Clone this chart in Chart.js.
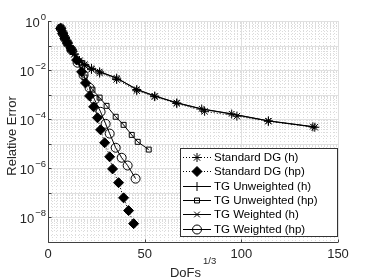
<!DOCTYPE html>
<html>
<head>
<meta charset="utf-8">
<script src="https://cdn.jsdelivr.net/npm/chart.js@4/dist/chart.umd.min.js"></script>
<style>
  html, body { margin: 0; padding: 0; background: #fff; }
  #wrap { width: 374px; height: 280px; }
</style>
</head>
<body>
<div id="wrap"><canvas id="myChart" width="374" height="280"></canvas></div>
<script>
// series data (x = DoFs^(1/3), y = relative error)
var seriesNames = ['Standard DG (h)', 'Standard DG (hp)', 'TG Unweighted (h)', 'TG Unweighted (hp)', 'TG Weighted (h)', 'TG Weighted (hp)'];

var dgH_x = [6.6, 7.6, 8.7, 10, 11.6, 13.6, 16.3, 19, 22.5, 26.7, 35.5, 45.9, 55.2, 66.6, 81, 97.7, 114, 138];
var dgH_y = [0.50, 0.316, 0.204, 0.126, 0.0759, 0.0437, 0.0219, 0.0151, 0.0107, 0.00759, 0.00417, 0.00145, 8.3e-4, 4.4e-4, 2.1e-4, 1.33e-4, 8.3e-5, 4.7e-5];

var dgHp_x = [6.6, 7.6, 8.7, 10.1, 12.2, 14.8, 17.4, 19.4, 21.5, 23.6, 25.6, 27.2, 29.3, 31.9, 33.4, 36.5, 39.1, 41.7, 44.3];
var dgHp_y = [0.50, 0.316, 0.20, 0.126, 0.066, 0.0257, 0.0085, 0.0030, 8.9e-4, 3.2e-4, 1.15e-4, 3.7e-5, 1.1e-5, 2.95e-6, 9.5e-7, 2.6e-7, 6.3e-8, 1.9e-8, 5.6e-9];

var tgH_x = [6.6, 7.6, 8.7, 10, 11.6, 13.6, 16.3, 19, 22.5, 26.7, 35.5, 45.9, 55.2, 66.6, 79.5, 95, 114, 137];
var tgUwH_y = [0.50, 0.316, 0.204, 0.126, 0.079, 0.046, 0.0245, 0.017, 0.0118, 0.0085, 0.0047, 0.00162, 8.8e-4, 4.6e-4, 2.6e-4, 1.62e-4, 8.5e-5, 4.9e-5];
var tgWH_y = [0.50, 0.316, 0.204, 0.126, 0.0794, 0.0468, 0.0251, 0.0174, 0.0120, 0.0087, 0.0048, 0.00166, 8.9e-4, 4.7e-4, 2.65e-4, 1.66e-4, 8.6e-5, 5.0e-5];

var tgUwHp_x = [6.6, 7.6, 8.7, 10.1, 12.2, 15.3, 18.9, 23, 26.7, 30.3, 35, 39.1, 43.3, 46.4, 52.1];
var tgUwHp_y = [0.50, 0.316, 0.20, 0.126, 0.071, 0.024, 0.005, 0.0016, 7.6e-4, 3.5e-4, 1.26e-4, 5.9e-5, 2.3e-5, 1.2e-5, 5.8e-6];

var tgWHp_x = [6.6, 7.6, 8.7, 10.1, 12.2, 15.3, 18.4, 21.5, 24.1, 27.2, 29.8, 31.9, 35, 38.1, 41.2, 45.3];
var tgWHp_y = [0.50, 0.316, 0.20, 0.126, 0.066, 0.020, 0.0063, 0.0019, 6.2e-4, 2.0e-4, 6.5e-5, 2.6e-5, 6.9e-6, 2.7e-6, 1.3e-6, 3.8e-7];

var xTicks = [0, 50, 100, 150];
var yTickExps = [0, -2, -4, -6, -8];

var FONT = '"Liberation Sans", Arial, sans-serif';

function zip(xs, ys) {
  return xs.map(function (x, i) { return { x: x, y: ys[i] }; });
}

function makeSet(idx, xs, ys, style, radius, fill, dotted) {
  return {
    label: seriesNames[idx],
    data: zip(xs, ys),
    borderColor: '#000',
    borderWidth: 1,
    borderDash: dotted ? [1, 2] : [],
    pointStyle: style,
    pointRadius: radius,
    pointBorderColor: '#000',
    pointBackgroundColor: fill,
    pointBorderWidth: 1,
    fill: false,
    tension: 0
  };
}

var datasets = [
  makeSet(0, dgH_x, dgH_y, 'star', 4.5, 'rgba(0,0,0,0)', true),
  makeSet(1, dgHp_x, dgHp_y, 'rectRot', 5, '#000', true),
  makeSet(2, tgH_x, tgUwH_y, 'cross', 4.5, 'rgba(0,0,0,0)', false),
  makeSet(3, tgUwHp_x, tgUwHp_y, 'rect', 3.5, 'rgba(0,0,0,0)', false),
  makeSet(4, tgH_x, tgWH_y, 'crossRot', 4, 'rgba(0,0,0,0)', false),
  makeSet(5, tgWHp_x, tgWHp_y, 'circle', 4.5, 'rgba(0,0,0,0)', false)
];

// grid, axes, tick labels and legend drawn by hand (matlab look)
var decorPlugin = {
  id: 'decor',
  beforeDatasetsDraw: function (chart) {
    var ctx = chart.ctx, a = chart.chartArea;
    var xs = chart.scales.x, ys = chart.scales.y;
    ctx.save();
    ctx.lineWidth = 1;
    // minor vertical
    ctx.strokeStyle = '#dcdcdc';
    ctx.setLineDash([1, 2]);
    for (var v = 2; v < 150; v += 2) {
      if (v % 50 === 0) continue;
      var px = Math.round(xs.getPixelForValue(v)) + 0.5;
      ctx.beginPath(); ctx.moveTo(px, a.top); ctx.lineTo(px, a.bottom); ctx.stroke();
    }
    // minor horizontal
    for (var e = -9; e < 0; e++) {
      for (var m = 2; m <= 9; m++) {
        var py = Math.round(ys.getPixelForValue(m * Math.pow(10, e))) + 0.5;
        ctx.beginPath(); ctx.moveTo(a.left, py); ctx.lineTo(a.right, py); ctx.stroke();
      }
    }
    ctx.setLineDash([]);
    ctx.strokeStyle = '#e0e0e0';
    for (var i = 0; i < xTicks.length; i++) {
      var px2 = Math.round(xs.getPixelForValue(xTicks[i])) + 0.5;
      ctx.beginPath(); ctx.moveTo(px2, a.top); ctx.lineTo(px2, a.bottom); ctx.stroke();
    }
    for (var e2 = -9; e2 <= 0; e2++) {
      var py2 = Math.round(ys.getPixelForValue(Math.pow(10, e2))) + 0.5;
      ctx.beginPath(); ctx.moveTo(a.left, py2); ctx.lineTo(a.right, py2); ctx.stroke();
    }
    ctx.restore();
  },
  afterDraw: function (chart) {
    var ctx = chart.ctx, a = chart.chartArea;
    var xs = chart.scales.x, ys = chart.scales.y;
    ctx.save();
    // axis lines
    ctx.strokeStyle = '#404040';
    ctx.lineWidth = 1;
    var L = Math.round(a.left) + 0.5, B = Math.round(a.bottom) + 0.5;
    ctx.beginPath(); ctx.moveTo(L, a.top); ctx.lineTo(L, B); ctx.lineTo(a.right, B); ctx.stroke();
    // ticks
    xTicks.forEach(function (t) {
      var px = Math.round(xs.getPixelForValue(t)) + 0.5;
      ctx.beginPath(); ctx.moveTo(px, B); ctx.lineTo(px, B - 3); ctx.stroke();
    });
    for (var e = -9; e <= 0; e++) {
      var py = Math.round(ys.getPixelForValue(Math.pow(10, e))) + 0.5;
      ctx.beginPath(); ctx.moveTo(L, py); ctx.lineTo(L + 3, py); ctx.stroke();
    }
    // tick labels
    ctx.fillStyle = '#262626';
    ctx.font = '13px ' + FONT;
    ctx.textAlign = 'center';
    ctx.textBaseline = 'alphabetic';
    xTicks.forEach(function (t) {
      ctx.fillText(String(t), xs.getPixelForValue(t), B + 15);
    });
    yTickExps.forEach(function (ex) {
      var py = ys.getPixelForValue(Math.pow(10, ex));
      var sup = String(ex).replace('-', '\u2212');
      ctx.font = '9.5px ' + FONT;
      var sw = ctx.measureText(sup).width;
      ctx.textAlign = 'left';
      ctx.fillText(sup, 46 - sw, py - 1);
      ctx.font = '13px ' + FONT;
      ctx.textAlign = 'right';
      ctx.fillText('10', 45 - sw, py + 5.5);
    });
    // axis titles
    ctx.font = '13px ' + FONT;
    ctx.textAlign = 'right';
    ctx.fillText('DoFs', 201, 277);
    ctx.font = '9.5px ' + FONT;
    ctx.textAlign = 'left';
    ctx.fillText('1/3', 203, 264);
    ctx.save();
    ctx.translate(16, 136);
    ctx.rotate(-Math.PI / 2);
    ctx.font = '13px ' + FONT;
    ctx.textAlign = 'center';
    ctx.fillText('Relative Error', 0, 0);
    ctx.restore();
    // legend box
    var bx = 180.5, by = 148.5, bw = 157, bh = 88;
    ctx.fillStyle = '#fff';
    ctx.fillRect(bx, by, bw, bh);
    ctx.strokeStyle = '#333';
    ctx.strokeRect(bx, by, bw, bh);
    chart.data.datasets.forEach(function (ds, i) {
      var cy = Math.round(157 + i * 14.3) + 0.5;
      ctx.strokeStyle = '#000';
      ctx.lineWidth = 1;
      ctx.setLineDash(ds.borderDash);
      ctx.beginPath(); ctx.moveTo(183, cy); ctx.lineTo(211, cy); ctx.stroke();
      ctx.setLineDash([]);
      ctx.fillStyle = ds.pointBackgroundColor;
      Chart.helpers.drawPoint(ctx, { pointStyle: ds.pointStyle, radius: ds.pointRadius, rotation: 0, borderWidth: 1 }, 197, cy);
      ctx.fillStyle = '#000';
      ctx.font = '11.5px ' + FONT;
      ctx.textAlign = 'left';
      ctx.textBaseline = 'middle';
      ctx.fillText(ds.label, 214, cy);
    });
    ctx.restore();
  }
};

const config = {
  type: 'line',
  data: { datasets: datasets },
  options: {
    responsive: false,
    animation: false,
    layout: { padding: { left: 48, top: 21, right: 36, bottom: 38 } },
    plugins: { legend: { display: false }, tooltip: { enabled: false } },
    scales: {
      x: { type: 'linear', min: 0, max: 150, display: false },
      y: { type: 'logarithmic', min: 1e-9, max: 1, display: false }
    }
  },
  plugins: [decorPlugin]
};

new Chart(document.getElementById('myChart'), config);
</script>
</body>
</html>
